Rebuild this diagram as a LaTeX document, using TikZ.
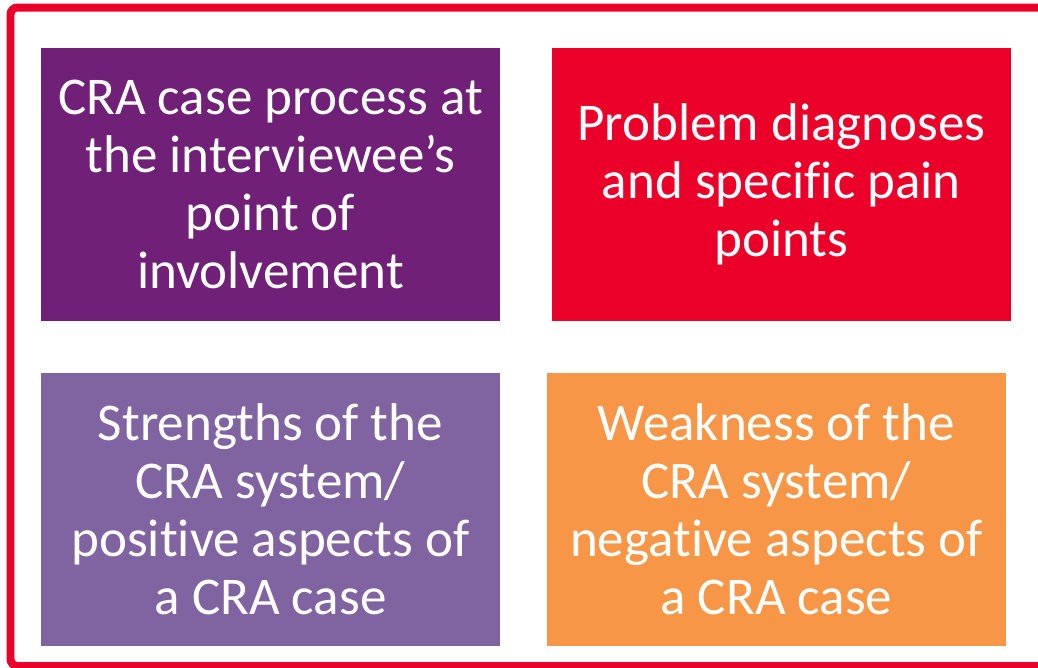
\documentclass[tikz,border=0pt]{standalone}
\usepackage{fontspec}
\setmainfont{Carlito}[Ligatures=NoCommon]
\usetikzlibrary{positioning}

\definecolor{plum}{HTML}{702077}
\definecolor{signalred}{HTML}{EA0029}
\definecolor{lavender}{HTML}{8064A2}
\definecolor{apricot}{HTML}{F79646}

\begin{document}
\begin{tikzpicture}[
    x=0.02cm, y=-0.02cm,
    theme/.style={rectangle, inner sep=0pt, outer sep=0pt, minimum width=9.18cm, minimum height=5.46cm,
        align=center, text=white, font=\fontsize{30.2}{33}\selectfont},
    frame/.style={draw=signalred, line width=0.16cm, rounded corners=4pt}
]
\useasboundingbox (0,0) rectangle (1038,667);
\clip (0,0) rectangle (1038,667);

% outer frame
\draw[frame] (10.5,7.5) rectangle (1046,666);

% top row
\node[theme, fill=plum] (process) at (270.5,184.5) {CRA case process at\\the interviewee’s\\point of\\involvement};
\node[theme, fill=signalred, right=1.04cm of process] (problems) {Problem diagnoses\\and specific pain\\points};

% bottom row
\node[theme, fill=lavender, below=1.04cm of process] (strengths) {Strengths of the\\CRA system/\\positive aspects of\\a CRA case};
\node[theme, fill=apricot, below=1.04cm of problems, xshift=-0.1cm] (weakness) {Weakness of the\\CRA system/\\negative aspects of\\a CRA case};

\end{tikzpicture}
\end{document}
